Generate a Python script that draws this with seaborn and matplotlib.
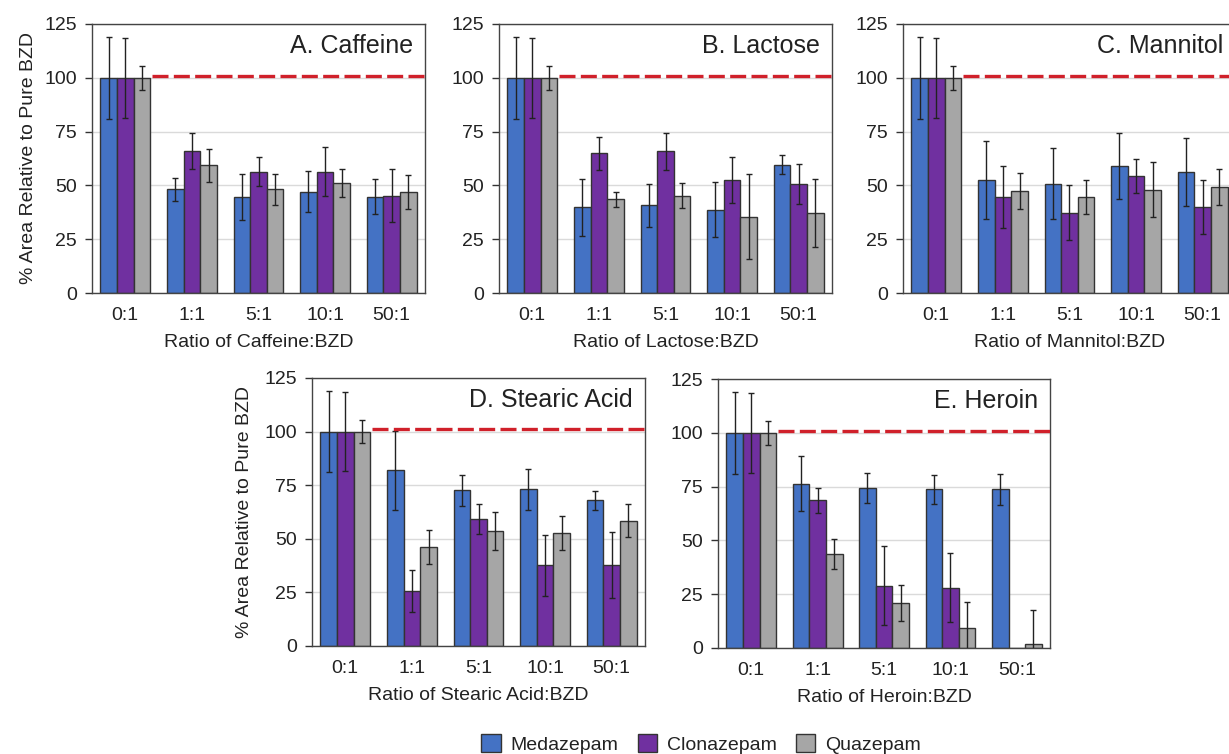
import numpy as np
import pandas as pd
import matplotlib
matplotlib.use('Agg')
import matplotlib.pyplot as plt
import seaborn as sns
from matplotlib.patches import Patch

# --- data ---
ratios = ['0:1', '1:1', '5:1', '10:1', '50:1']
drugs = ['Medazepam', 'Clonazepam', 'Quazepam']
colors = ['#4472C4', '#7030A0', '#A6A6A6']
ref_level = 101  # pure BZD reference line

# rows: Medazepam, Clonazepam, Quazepam
caffeine_mean = [[100, 48.1, 44.7, 47.0, 44.7],
                 [100, 66.1, 56.4, 56.4, 45.3],
                 [100, 59.3, 48.1, 51.1, 46.9]]
caffeine_err = [[19, 5.5, 10.7, 9.5, 8.2],
                [18.5, 8.3, 6.6, 11.4, 12.3],
                [5.5, 7.8, 7.0, 6.7, 8.0]]

lactose_mean = [[100, 39.8, 40.8, 38.8, 59.6],
                [100, 64.9, 65.8, 52.6, 50.5],
                [100, 43.5, 45.3, 35.4, 37.3]]
lactose_err = [[19, 13.4, 10.0, 12.9, 4.4],
               [18.5, 7.7, 8.5, 10.6, 9.3],
               [5.5, 3.5, 5.7, 19.8, 15.7]]

mannitol_mean = [[100, 52.6, 50.8, 59.0, 56.1],
                 [100, 44.4, 37.4, 54.5, 40.1],
                 [100, 47.4, 44.7, 48.0, 49.2]]
mannitol_err = [[19, 18.0, 16.5, 15.5, 15.7],
                [18.5, 14.4, 13.0, 7.8, 12.5],
                [5.5, 8.2, 7.9, 12.7, 8.4]]

stearic_mean = [[100, 81.9, 72.7, 73.0, 67.9],
                [100, 25.6, 59.1, 37.7, 38.0],
                [100, 46.2, 53.8, 52.9, 58.5]]
stearic_err = [[19, 18.6, 7.2, 9.5, 4.6],
               [18.5, 9.8, 7.0, 14.2, 15.4],
               [5.5, 8.0, 8.8, 7.9, 7.8]]

heroin_mean = [[100, 76.3, 74.2, 73.7, 73.7],
               [100, 68.6, 29.0, 28.1, 0.0],
               [100, 43.6, 20.9, 9.1, 1.7]]
heroin_err = [[19, 12.7, 6.9, 6.8, 7.2],
              [18.5, 5.9, 18.5, 16.0, np.nan],
              [5.5, 6.9, 8.5, 12.4, 15.8]]

panels = [
    ('A. Caffeine', 'Ratio of Caffeine:BZD', caffeine_mean, caffeine_err),
    ('B. Lactose', 'Ratio of Lactose:BZD', lactose_mean, lactose_err),
    ('C. Mannitol', 'Ratio of Mannitol:BZD', mannitol_mean, mannitol_err),
    ('D. Stearic Acid', 'Ratio of Stearic Acid:BZD', stearic_mean, stearic_err),
    ('E. Heroin', 'Ratio of Heroin:BZD', heroin_mean, heroin_err),
]

# --- style ---
sns.set_theme(style='white')
plt.rcParams['font.family'] = ['Liberation Sans', 'DejaVu Sans']
text_col = '#222222'
fs = 14

W, H = 1229, 754
fig = plt.figure(figsize=(W / 100, H / 100), dpi=100)

# axes boxes in pixels: left, top, right, bottom
boxes = [(92, 24, 425, 293), (499, 24, 832, 293), (903, 24, 1236, 293),
         (312, 378, 645, 646), (718, 379, 1050, 648)]
ylabel_x = {0: -0.165, 3: -0.177}

for k, ((title, xlabel, means, errs), (l, t, r, b)) in enumerate(zip(panels, boxes)):
    ax = fig.add_axes([l / W, 1 - b / H, (r - l) / W, (b - t) / H])
    df = pd.DataFrame({
        'ratio': np.tile(ratios, len(drugs)),
        'drug': np.repeat(drugs, len(ratios)),
        'value': np.ravel(means),
    })
    sns.barplot(data=df, x='ratio', y='value', hue='drug', order=ratios,
                hue_order=drugs, palette=colors, saturation=1, width=0.75,
                edgecolor='#333333', linewidth=1, errorbar=None, legend=False, ax=ax)

    # error bars on each bar
    bar_conts = list(ax.containers)
    for j, cont in enumerate(bar_conts):
        for i, bar in enumerate(cont):
            e = errs[j][i]
            if np.isnan(e):
                continue
            ax.errorbar(bar.get_x() + bar.get_width() / 2, bar.get_height(), yerr=e,
                        fmt='none', ecolor=text_col, elinewidth=1, capsize=2.5,
                        capthick=1, zorder=4)

    ax.plot([0.4, len(ratios) - 0.5], [ref_level, ref_level], color='#d0202a',
            lw=2.4, dashes=(4.8, 1.6), zorder=5)

    ax.set_xlim(-0.5, len(ratios) - 0.5)
    ax.set_ylim(0, 125)
    ax.set_yticks(np.arange(0, 126, 25))
    ax.set_axisbelow(True)
    ax.yaxis.grid(True, color='#dadada', lw=1)
    ax.xaxis.grid(False)

    ax.set_xticks(np.arange(0.5, len(ratios) - 1, 1), minor=True)
    ax.tick_params(axis='x', which='major', length=0, pad=10, labelsize=fs, labelcolor=text_col)
    ax.tick_params(axis='x', which='minor', length=9, width=1, direction='inout', color='#333333')
    ax.tick_params(axis='y', which='major', length=5, width=1, direction='out',
                   color='#333333', pad=6, labelsize=fs, labelcolor=text_col, left=True)

    for sp in ax.spines.values():
        sp.set_visible(True)
        sp.set_color('#444444')
        sp.set_linewidth(1)

    ax.set_xlabel(xlabel, fontsize=fs, color=text_col, labelpad=7)
    if k in ylabel_x:
        ax.set_ylabel('% Area Relative to Pure BZD', fontsize=fs, color=text_col)
        ax.yaxis.set_label_coords(ylabel_x[k], 0.5)
    else:
        ax.set_ylabel('')

    ax.text(0.963, 0.918, title, transform=ax.transAxes, ha='right', va='center',
            fontsize=18, color=text_col)

handles = [Patch(facecolor=c, edgecolor='#333333', linewidth=1) for c in colors]
fig.legend(handles, drugs, loc='center', bbox_to_anchor=(701 / W, 1 - 744 / H),
           ncol=3, frameon=False, fontsize=fs, handlelength=1.0, handleheight=1.0,
           handletextpad=0.5, columnspacing=1.0, labelcolor=text_col)

fig.savefig('out.png', dpi=100)
